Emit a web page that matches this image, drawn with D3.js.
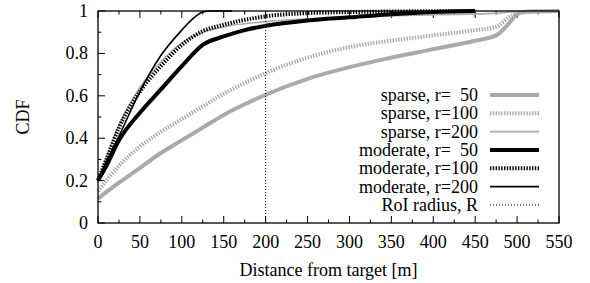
<!DOCTYPE html>
<html>
<head>
<meta charset="utf-8">
<script src="https://cdn.jsdelivr.net/npm/d3@7"></script>
<style>
  body { margin: 0; background: #fff; }
  text { font-family: "Liberation Serif", "Times New Roman", serif; font-size: 18px; fill: #000; }
</style>
</head>
<body>
<div id="chart"></div>
<script>
// Data: [distance (m), CDF]
var sparse50 = [[0,0.115],[25,0.19],[50,0.26],[75,0.33],[100,0.39],[125,0.45],[150,0.51],[175,0.56],[200,0.605],[250,0.68],[300,0.735],[350,0.78],[400,0.82],[450,0.86],[475,0.885],[490,0.94],[500,0.985],[510,0.995],[550,1]];
var sparse100 = [[0,0.15],[25,0.27],[50,0.36],[75,0.43],[100,0.49],[125,0.55],[150,0.61],[175,0.66],[200,0.707],[250,0.78],[300,0.83],[350,0.86],[400,0.885],[450,0.91],[475,0.925],[490,0.97],[500,0.99],[520,1],[550,1]];
var sparse200 = [[0,0.2],[10,0.31],[25,0.46],[50,0.64],[75,0.76],[100,0.85],[125,0.9],[150,0.925],[200,0.95],[250,0.963],[300,0.972],[400,0.982],[480,0.99],[500,0.998],[550,1]];
var moderate50 = [[0,0.2],[10,0.27],[25,0.39],[50,0.52],[75,0.63],[100,0.74],[125,0.84],[150,0.88],[175,0.91],[200,0.93],[250,0.955],[300,0.97],[350,0.985],[400,0.995],[450,1]];
var moderate100 = [[0,0.2],[10,0.3],[25,0.45],[50,0.62],[75,0.74],[100,0.84],[125,0.905],[150,0.935],[200,0.975],[250,0.99],[300,0.995],[450,1]];
var moderate200 = [[0,0.2],[10,0.29],[25,0.41],[50,0.62],[75,0.79],[100,0.91],[115,0.97],[125,0.995],[135,1],[160,1]];
var roiRadius = 200;

var seriesNames = ["sparse, r=\u00a0\u00a050", "sparse, r=100", "sparse, r=200",
                   "moderate, r=\u00a0\u00a050", "moderate, r=100", "moderate, r=200"];
var xTicks = [0, 50, 100, 150, 200, 250, 300, 350, 400, 450, 500, 550];
var yTicks = [0, 0.2, 0.4, 0.6, 0.8, 1];

var width = 590, height = 283;
var margin = { top: 11, right: 31, bottom: 60, left: 98 };

var svg = d3.select("#chart").append("svg")
    .attr("width", width)
    .attr("height", height);

var x = d3.scaleLinear().domain([0, 550]).range([margin.left, width - margin.right]);
var y = d3.scaleLinear().domain([0, 1]).range([height - margin.bottom, margin.top]);

// Styles per series
var styles = [
  { color: "#aaaaaa", width: 4, dash: null },
  { color: "#aaaaaa", width: 4, dash: "1.4,1.4" },
  { color: "#aaaaaa", width: 1.6, dash: null },
  { color: "#000", width: 4, dash: null },
  { color: "#000", width: 4, dash: "1.4,1.4" },
  { color: "#000", width: 1.6, dash: null }
];
var allSeries = [sparse50, sparse100, sparse200, moderate50, moderate100, moderate200];

// Ticks (inward, gnuplot style)
var minorX = d3.range(25, 550, 50);
var minorY = d3.range(0.1, 1, 0.2);
var tickG = svg.append("g").attr("stroke", "#000").attr("stroke-width", 1);
xTicks.forEach(function(v) {
  tickG.append("line").attr("x1", x(v)).attr("x2", x(v)).attr("y1", y(0)).attr("y2", y(0) - 7);
  tickG.append("line").attr("x1", x(v)).attr("x2", x(v)).attr("y1", y(1)).attr("y2", y(1) + 7);
});
minorX.forEach(function(v) {
  tickG.append("line").attr("x1", x(v)).attr("x2", x(v)).attr("y1", y(0)).attr("y2", y(0) - 3.5);
  tickG.append("line").attr("x1", x(v)).attr("x2", x(v)).attr("y1", y(1)).attr("y2", y(1) + 3.5);
});
yTicks.forEach(function(v) {
  tickG.append("line").attr("x1", x(0)).attr("x2", x(0) + 7).attr("y1", y(v)).attr("y2", y(v));
});
minorY.forEach(function(v) {
  tickG.append("line").attr("x1", x(0)).attr("x2", x(0) + 3.5).attr("y1", y(v)).attr("y2", y(v));
});

// Tick labels
svg.append("g").selectAll("text").data(xTicks).enter().append("text")
  .attr("x", function(d) { return x(d); })
  .attr("y", 248)
  .attr("text-anchor", "middle")
  .text(function(d) { return d; });

svg.append("g").selectAll("text").data(yTicks).enter().append("text")
  .attr("x", 88)
  .attr("y", function(d) { return y(d) + 6; })
  .attr("text-anchor", "end")
  .text(function(d) { return d; });

// Axis titles
svg.append("text")
  .attr("x", (x(0) + x(550)) / 2)
  .attr("y", 276)
  .attr("text-anchor", "middle")
  .text("Distance from target [m]");

svg.append("text")
  .attr("transform", "translate(29," + y(0.5) + ") rotate(-90)")
  .attr("text-anchor", "middle")
  .text("CDF");

// Curves
var line = d3.line()
  .x(function(d) { return x(d[0]); })
  .y(function(d) { return y(d[1]); })
  .curve(d3.curveMonotoneX);

allSeries.forEach(function(s, i) {
  svg.append("path")
    .attr("d", line(s))
    .attr("fill", "none")
    .attr("stroke", styles[i].color)
    .attr("stroke-width", styles[i].width)
    .attr("stroke-dasharray", styles[i].dash)
    .attr("stroke-linejoin", "round");
});

// RoI radius
svg.append("line")
  .attr("x1", x(roiRadius)).attr("x2", x(roiRadius))
  .attr("y1", y(0)).attr("y2", y(1))
  .attr("stroke", "#000").attr("stroke-width", 1)
  .attr("stroke-dasharray", "1,2");

// Border
svg.append("rect")
  .attr("x", x(0)).attr("y", y(1))
  .attr("width", x(550) - x(0)).attr("height", y(0) - y(1))
  .attr("fill", "none").attr("stroke", "#000").attr("stroke-width", 1.3);

// Legend
var legendNames = seriesNames.concat(["RoI radius, R"]);
var legendStyles = styles.concat([{ color: "#000", width: 1, dash: "1,2" }]);
var leg = svg.append("g").selectAll("g").data(legendNames).enter().append("g")
  .attr("transform", function(d, i) { return "translate(0," + (95 + i * 18.33) + ")"; });
leg.append("text")
  .attr("x", 478).attr("y", 6)
  .attr("text-anchor", "end")
  .text(function(d) { return d; });
leg.append("line")
  .attr("x1", 490).attr("x2", 539)
  .attr("stroke", function(d, i) { return legendStyles[i].color; })
  .attr("stroke-width", function(d, i) { return legendStyles[i].width; })
  .attr("stroke-dasharray", function(d, i) { return legendStyles[i].dash; });
</script>
</body>
</html>
